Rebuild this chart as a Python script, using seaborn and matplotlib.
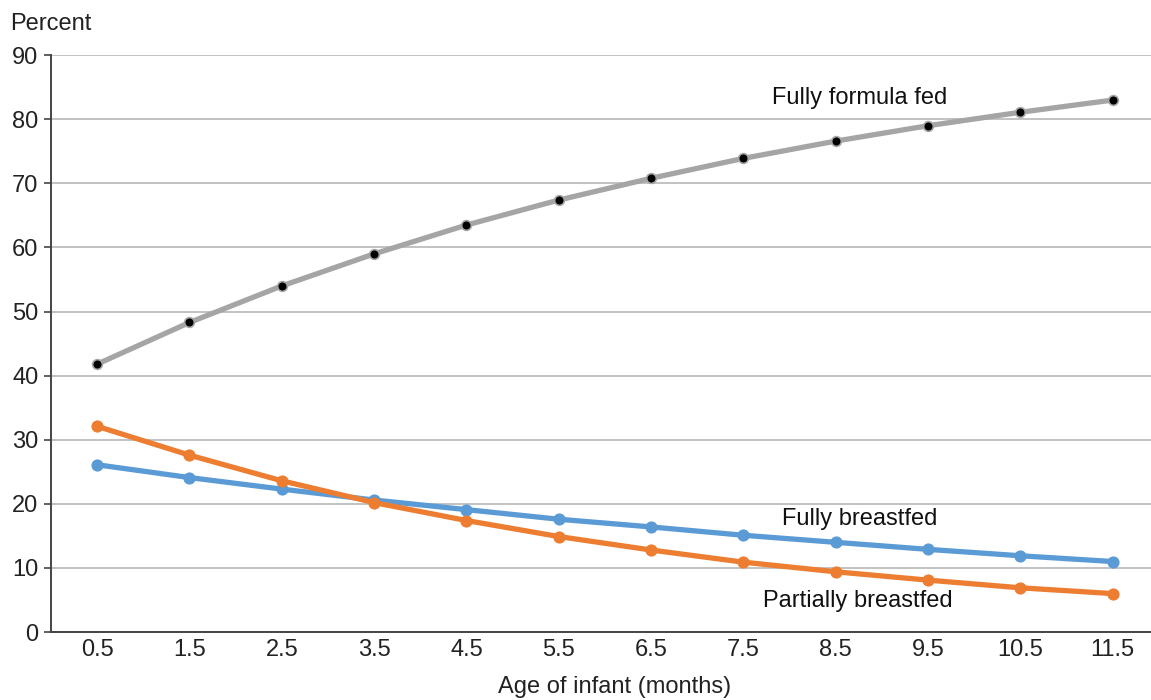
import matplotlib
matplotlib.use("Agg")
import matplotlib.pyplot as plt
import numpy as np
import pandas as pd
import seaborn as sns

# values
ages = [0.5, 1.5, 2.5, 3.5, 4.5, 5.5, 6.5, 7.5, 8.5, 9.5, 10.5, 11.5]
age_labels = ["0.5", "1.5", "2.5", "3.5", "4.5", "5.5", "6.5", "7.5", "8.5", "9.5", "10.5", "11.5"]
formula_fed = [41.8, 48.3, 54.0, 59.0, 63.5, 67.4, 70.8, 73.9, 76.6, 79.0, 81.1, 83.0]
fully_breastfed = [26.1, 24.1, 22.3, 20.6, 19.1, 17.6, 16.4, 15.1, 14.0, 12.9, 11.9, 11.0]
partially_breastfed = [32.1, 27.6, 23.6, 20.2, 17.4, 14.9, 12.8, 10.9, 9.4, 8.1, 6.9, 6.0]


def main():
    sns.set_style("white")
    plt.rcParams['font.family'] = ['Liberation Sans', 'DejaVu Sans']
    fs = 17

    fig = plt.figure(figsize=(11.51, 7.0), dpi=100)
    ax = fig.add_axes([0.0443, 0.0971, 0.96, 0.824])

    df = pd.DataFrame({"age": ages, "formula": formula_fed,
                       "full": fully_breastfed, "partial": partially_breastfed})

    # grey line with black dots
    sns.lineplot(data=df, x="age", y="formula", ax=ax, color="#a5a5a5", lw=3.8,
                 marker="o", markersize=7, markerfacecolor="black",
                 markeredgecolor="#a5a5a5", markeredgewidth=1.2, zorder=3)
    sns.lineplot(data=df, x="age", y="full", ax=ax, color="#5b9bd5", lw=3.8,
                 marker="o", markersize=8, markerfacecolor="#5b9bd5",
                 markeredgecolor="#5b9bd5", zorder=3)
    sns.lineplot(data=df, x="age", y="partial", ax=ax, color="#ed7d31", lw=3.8,
                 marker="o", markersize=8, markerfacecolor="#ed7d31",
                 markeredgecolor="#ed7d31", zorder=4)

    ax.set_xlim(0, 11.97)
    ax.set_ylim(0, 90)
    ax.set_yticks(np.arange(0, 91, 10))
    ax.yaxis.grid(True, color="#bdbdbd", lw=1.3)
    ax.set_axisbelow(True)

    ax.set_xticks(ages)
    ax.set_xticklabels(age_labels)
    ax.set_xticks(np.arange(0, 12), minor=True)
    ax.tick_params(axis="x", which="major", length=0, pad=5, labelsize=fs, colors="#222222")
    ax.tick_params(axis="x", which="minor", length=5, width=1.2, direction="out", color="#444444")
    ax.tick_params(axis="y", length=5, width=1.2, direction="out", color="#444444",
                   labelsize=fs, labelcolor="#222222", pad=4, left=True)

    for s in ["top", "right"]:
        ax.spines[s].set_visible(False)
    for s in ["left", "bottom"]:
        ax.spines[s].set_color("#444444")
        ax.spines[s].set_linewidth(1.4)

    ax.set_xlabel("Age of infant (months)", fontsize=fs, color="#222222", labelpad=11, x=0.51)
    ax.set_ylabel("")
    fig.text(0.009, 0.966, "Percent", fontsize=fs, color="#222222", ha="left", va="center")

    ax.text(8.76, 83.3, "Fully formula fed", fontsize=fs, ha="center", va="center", color="#111111")
    ax.text(8.76, 17.6, "Fully breastfed", fontsize=fs, ha="center", va="center", color="#111111")
    ax.text(8.74, 4.8, "Partially breastfed", fontsize=fs, ha="center", va="center", color="#111111")

    fig.savefig("out.png", dpi=100)


if __name__ == "__main__":
    main()
